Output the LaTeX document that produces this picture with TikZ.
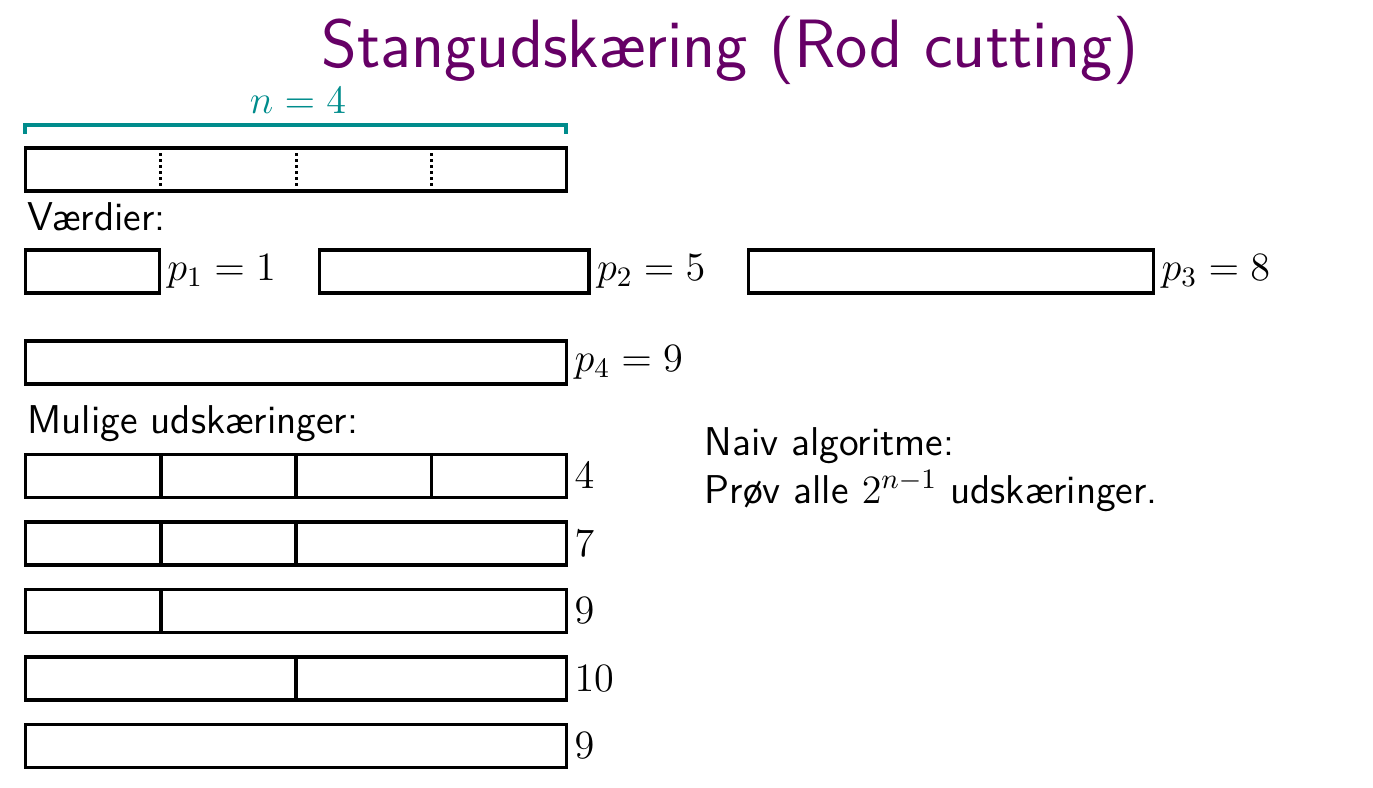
\RequirePackage{fix-cm}
\documentclass[tikz,border=0pt]{standalone}
\usepackage{amsmath, amssymb}
\usepackage{tikz}
\usetikzlibrary{positioning}

\definecolor{titlepurple}{RGB}{102,0,102}
\definecolor{braceteal}{RGB}{0,140,140}

\tikzset{
  rod/.style={draw, very thick, rectangle, inner sep=0pt, outer sep=0pt,
              minimum height=14.3pt, anchor=north west},
  cut/.style={very thick},
  unitmark/.style={densely dotted, line width=1pt},
  val/.style={inner sep=1pt, font=\fontsize{13.4}{16}\selectfont},
  txt/.style={inner sep=0pt, anchor=base west,
              font=\sffamily\fontsize{13.4}{16}\selectfont}
}

\begin{document}
\begin{tikzpicture}[x=0.3333pt,y=-0.3333pt]

  \useasboundingbox (0,0) rectangle (1373,787);

  % --- title ------------------------------------------------------
  \node[text=titlepurple, font=\sffamily\fontsize{22.8}{27}\selectfont]
        (title) at (730,50) {Stangudskæring (Rod cutting)};

  % --- whole rod, length n ---------------------------------------
  \draw[braceteal, very thick] (25,134) -- (25,125) -- (566,125) -- (566,134);
  \node[val, text=braceteal] (len) at (298,101) {$n = 4$};

  \node[rod, minimum width=180.3pt] (whole) at (25.5,148) {};
  \foreach \x in {160,296,431}
      \draw[unitmark] (\x,153) -- (\x,187);

  % --- values ----------------------------------------------------
  \node[txt] (vaerdier) at (27,230) {Værdier:};

  \node[rod, minimum width=44.6pt]  (rone)   at (25.5,250)  {};
  \node[rod, minimum width=89.8pt]  (rtwo)   at (319.5,250) {};
  \node[rod, minimum width=135pt]   (rthree) at (748.5,250) {};
  \node[rod, minimum width=180.3pt] (rfour)  at (25.5,341)  {};

  \node[val, right=1.5pt of rone]   (pone)   {$p_1 = 1$};
  \node[val, right=1.5pt of rtwo]   (ptwo)   {$p_2 = 5$};
  \node[val, right=1.5pt of rthree] (pthree) {$p_3 = 8$};
  \node[val, right=1.5pt of rfour]  (pfour)  {$p_4 = 9$};

  % --- possible cuts ---------------------------------------------
  \node[txt] (mulige) at (27,433) {Mulige udskæringer:};

  \foreach \i/\v in {1/4, 2/7, 3/9, 4/10, 5/9}{
      \node[rod, minimum width=180.3pt] (cut\i) at (25.5,387+\i*67.5) {};
      \node[val, right=1.5pt of cut\i] (sum\i) {$\v$};
  }
  \foreach \i/\k in {1/1,1/2,1/3, 2/1,2/2, 3/1, 4/2}
      \draw[cut] (cut\i.north west) ++(\k*45.1pt,0) -- ++(0,-14.3pt);

  % --- naive algorithm -------------------------------------------
  \node[txt] (naiv) at (704,455) {Naiv algoritme:};
  \node[txt] (proev) at (704,503) {Prøv alle $2^{n-1}$ udskæringer.};

\end{tikzpicture}
\end{document}
